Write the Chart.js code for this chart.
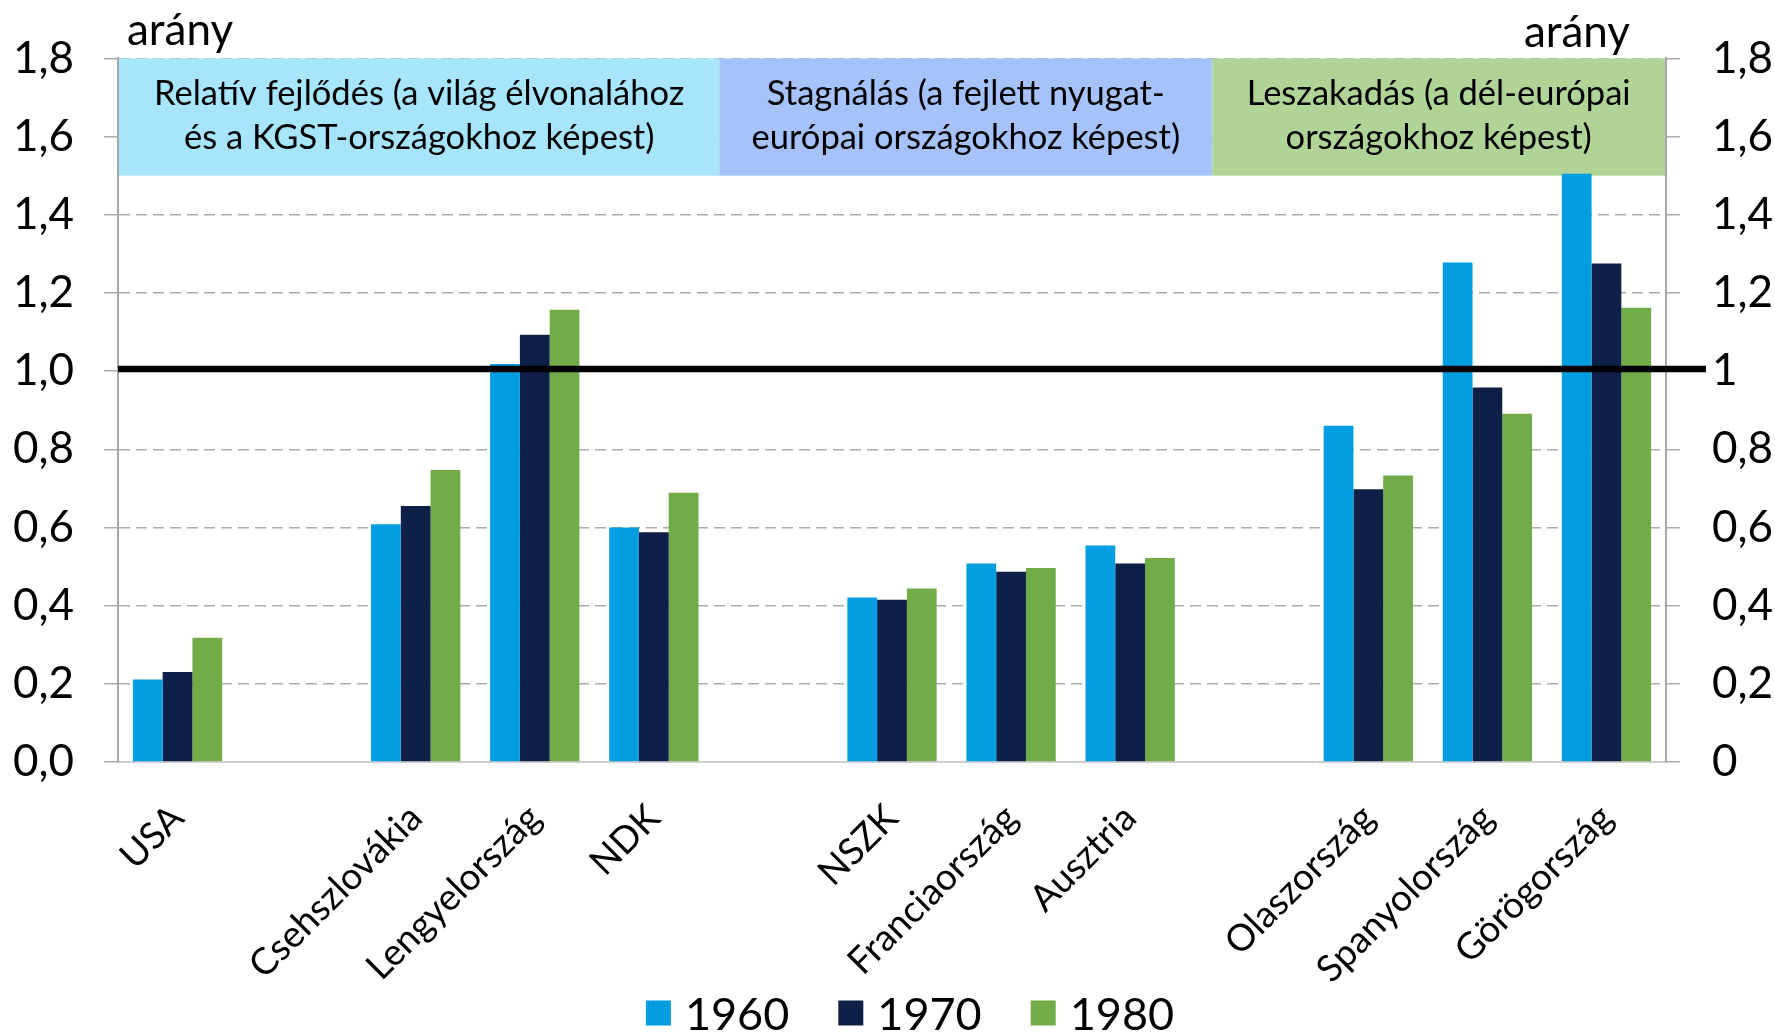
<!DOCTYPE html>
<html>
<head>
<meta charset="utf-8">
<script src="https://cdn.jsdelivr.net/npm/chart.js@4/dist/chart.umd.min.js"></script>
<style>
html,body{margin:0;padding:0;background:#ffffff;}
#wrap{width:1775px;height:1034px;position:relative;}
</style>
</head>
<body>
<div id="wrap"><canvas id="c"></canvas></div>
<script>
const categories = ['USA', '', 'Csehszlovákia', 'Lengyelország', 'NDK', '', 'NSZK', 'Franciaország', 'Ausztria', '', 'Olaszország', 'Spanyolország', 'Görögország'];
const seriesNames = ['1960', '1970', '1980'];
const values1960 = [0.211, null, 0.608, 1.018, 0.600, null, 0.421, 0.508, 0.554, null, 0.860, 1.278, 1.505];
const values1970 = [0.230, null, 0.655, 1.093, 0.588, null, 0.415, 0.487, 0.508, null, 0.698, 0.958, 1.275];
const values1980 = [0.318, null, 0.747, 1.157, 0.689, null, 0.444, 0.496, 0.522, null, 0.733, 0.891, 1.162];
const leftTickLabels = ['0,0', '0,2', '0,4', '0,6', '0,8', '1,0', '1,2', '1,4', '1,6', '1,8'];
const rightTickLabels = ['0', '0,2', '0,4', '0,6', '0,8', '1', '1,2', '1,4', '1,6', '1,8'];
const axisTitle = 'arány';
const bandTexts = [
  ['Relatív fejlődés (a világ élvonalához', 'és a KGST-országokhoz képest)'],
  ['Stagnálás (a fejlett nyugat-', 'európai országokhoz képest)'],
  ['Leszakadás (a dél-európai', 'országokhoz képest)']
];
const referenceValue = 1;

const seriesColors = ['#009EE0', '#0E2047', '#71AC48'];
const bandColors = ['#A7E5FC', '#A5C2FA', '#B0D497'];
const FONT = 'Lato, "Open Sans", sans-serif';

const overlayPlugin = {
  id: 'overlay',
  beforeDatasetsDraw(chart) {
    const ctx = chart.ctx, x = chart.scales.x, y = chart.scales.y;
    const edges = [-0.5, 4.55, 8.69, 12.5];
    const yTop = y.getPixelForValue(1.8), yBot = y.getPixelForValue(1.5);
    ctx.save();
    for (let i = 0; i < 3; i++) {
      const x0 = x.getPixelForValue(edges[i]) + (i === 0 ? 1 : 0);
      const x1 = x.getPixelForValue(edges[i + 1]) - (i === 2 ? 1 : 0);
      ctx.fillStyle = bandColors[i];
      ctx.fillRect(x0, yTop, x1 - x0, yBot - yTop);
      ctx.fillStyle = '#000';
      ctx.font = '34.5px ' + FONT;
      ctx.textAlign = 'center';
      ctx.textBaseline = 'middle';
      const cx = (x0 + x1) / 2, cy = (yTop + yBot) / 2;
      ctx.fillText(bandTexts[i][0], cx, cy - 23);
      ctx.fillText(bandTexts[i][1], cx, cy + 21);
    }
    ctx.restore();
  },
  afterDatasetsDraw(chart) {
    const ctx = chart.ctx, y = chart.scales.y, a = chart.chartArea;
    const py = y.getPixelForValue(referenceValue) - 2;
    ctx.save();
    ctx.strokeStyle = '#000';
    ctx.lineWidth = 6.5;
    ctx.beginPath();
    ctx.moveTo(a.left, py);
    ctx.lineTo(a.right + 40, py);
    ctx.stroke();
    ctx.restore();
  },
  afterDraw(chart) {
    const ctx = chart.ctx, a = chart.chartArea;
    ctx.save();
    ctx.fillStyle = '#000';
    ctx.font = '44px ' + FONT;
    ctx.textBaseline = 'middle';
    ctx.textAlign = 'left';
    ctx.fillText(axisTitle, a.left + 9, 31);
    ctx.textAlign = 'right';
    ctx.fillText(axisTitle, a.right - 36, 33);
    // legend
    ctx.font = '45px ' + FONT;
    const box = 25, gap = 14, spacing = 49;
    const widths = chart.data.datasets.map(d => ctx.measureText(d.label).width);
    const total = widths.reduce((s, w) => s + box + gap + w, 0) + spacing * (widths.length - 1);
    let lx = (a.left + a.right) / 2 + 18 - total / 2;
    const ly = 1013;
    chart.data.datasets.forEach((d, i) => {
      ctx.fillStyle = d.backgroundColor;
      ctx.fillRect(lx, ly - box / 2, box, box);
      ctx.fillStyle = '#000';
      ctx.textAlign = 'left';
      ctx.fillText(d.label, lx + box + gap, ly + 2);
      lx += box + gap + widths[i] + spacing;
    });
    ctx.restore();
  }
};

const datasets = [values1960, values1970, values1980].map((vals, i) => ({
  label: seriesNames[i],
  data: vals,
  backgroundColor: seriesColors[i],
  borderWidth: 0,
  categoryPercentage: 0.75,
  barPercentage: 1.0,
  yAxisID: 'y'
}));

new Chart(document.getElementById('c'), {
  type: 'bar',
  data: { labels: categories, datasets: datasets },
  plugins: [overlayPlugin],
  options: {
    responsive: true,
    maintainAspectRatio: false,
    animation: false,
    devicePixelRatio: 1,
    layout: { padding: { top: 56, left: 0, right: 0, bottom: 0 } },
    plugins: {
      legend: { display: false },
      tooltip: { enabled: false }
    },
    scales: {
      x: {
        grid: { display: false, drawTicks: false },
        border: { display: true, color: '#CFCFCF', width: 2 },
        ticks: {
          autoSkip: false,
          maxRotation: 45,
          minRotation: 45,
          padding: 34,
          color: '#000',
          font: { family: FONT, size: 37 }
        },
        afterFit(s) { s.height = 272; }
      },
      y: {
        position: 'left',
        min: 0,
        max: 1.8,
        ticks: {
          stepSize: 0.2,
          padding: 30,
          color: '#000',
          font: { family: FONT, size: 44 },
          callback: (v, i) => leftTickLabels[i]
        },
        grid: {
          color: '#ABABAB',
          lineWidth: 1.5,
          tickBorderDash: [],
          tickColor: '#ABABAB',
          tickLength: 14
        },
        border: { display: true, color: '#A6A6A6', width: 2, dash: [11, 6] },
        afterFit(s) { s.width = 118; }
      },
      y2: {
        position: 'right',
        min: 0,
        max: 1.8,
        ticks: {
          stepSize: 0.2,
          padding: 32,
          color: '#000',
          font: { family: FONT, size: 44 },
          callback: (v, i) => rightTickLabels[i]
        },
        grid: {
          drawOnChartArea: false,
          tickColor: '#ABABAB',
          lineWidth: 1.5,
          tickLength: 14
        },
        border: { display: true, color: '#A6A6A6', width: 2 },
        afterFit(s) { s.width = 109; }
      }
    }
  }
});
</script>
</body>
</html>
